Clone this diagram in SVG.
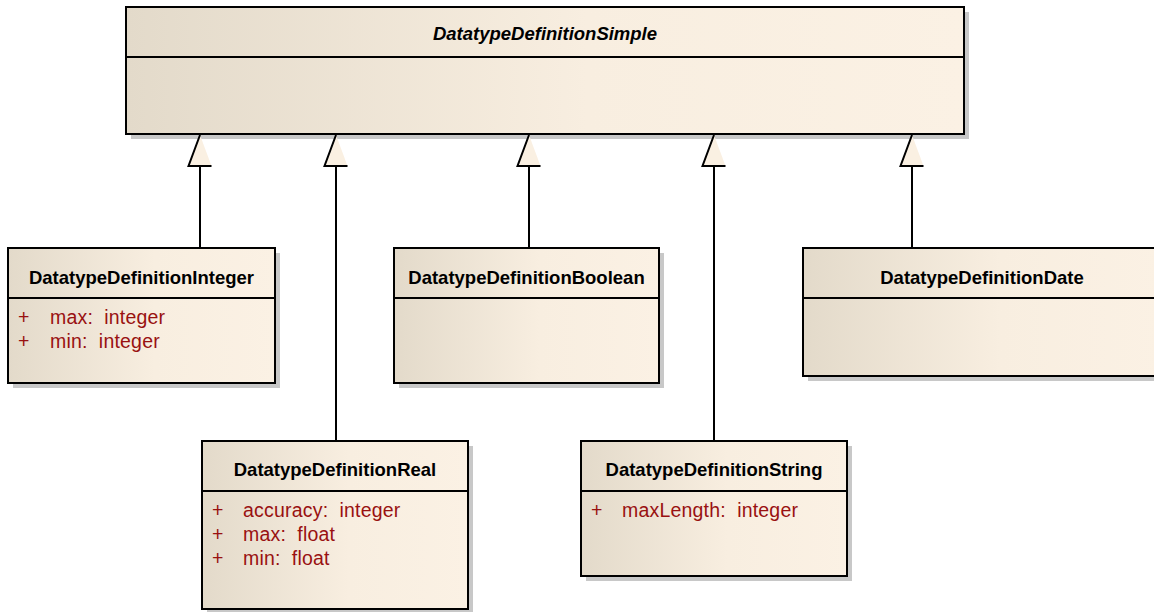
<svg xmlns="http://www.w3.org/2000/svg" width="1154" height="612" viewBox="0 0 1154 612">
<defs>
<linearGradient id="fillG" x1="0" y1="0" x2="1" y2="0">
<stop offset="0" stop-color="#E3DACA"/>
<stop offset="0.55" stop-color="#F8EEE0"/>
<stop offset="1" stop-color="#FBF1E4"/>
</linearGradient>
<style>
.shadow{fill:#C8C8C8;stroke:none}
.box{fill:url(#fillG);stroke:#000;stroke-width:2}
.sep{stroke:#000;stroke-width:2}
.title{font-family:"Liberation Sans",Arial,sans-serif;font-weight:bold;font-size:18.5px;fill:#000;text-anchor:middle}
.italic{font-style:italic}
.attr{font-family:"Liberation Sans",Arial,sans-serif;font-size:19.5px;fill:#991111;white-space:pre;letter-spacing:0.2px}
.conn{stroke:#000;stroke-width:2;fill:none}
.tri{fill:#FAF0E2;stroke:none}
.triS{fill:none;stroke:#000;stroke-width:2}
</style>
</defs>
<rect width="1154" height="612" fill="#FFFFFF"/>

<g id="DatatypeDefinitionSimple">
<rect class="shadow" x="131" y="12" width="838" height="127"/>
<rect class="box" x="126" y="7" width="838" height="127"/>
<line class="sep" x1="126" y1="57" x2="964" y2="57"/>
<text class="title italic" x="545" y="39.5">DatatypeDefinitionSimple</text>
</g>

<g id="DatatypeDefinitionInteger">
<rect class="shadow" x="13" y="253" width="267" height="135"/>
<rect class="box" x="8" y="248" width="267" height="135"/>
<line class="sep" x1="8" y1="298" x2="275" y2="298"/>
<text class="title" x="141.5" y="283.5">DatatypeDefinitionInteger</text>
<text class="attr" x="18" y="324">+</text>
<text class="attr" x="50" y="324">max:  integer</text>
<text class="attr" x="18" y="348">+</text>
<text class="attr" x="50" y="348">min:  integer</text>
</g>

<g id="DatatypeDefinitionBoolean">
<rect class="shadow" x="399" y="253" width="265" height="135"/>
<rect class="box" x="394" y="248" width="265" height="135"/>
<line class="sep" x1="394" y1="298" x2="659" y2="298"/>
<text class="title" x="526.5" y="283.5">DatatypeDefinitionBoolean</text>
</g>

<g id="DatatypeDefinitionDate">
<rect class="shadow" x="808" y="253" width="358" height="128"/>
<rect class="box" x="803" y="248" width="358" height="128"/>
<line class="sep" x1="803" y1="298" x2="1161" y2="298"/>
<text class="title" x="982" y="283.5">DatatypeDefinitionDate</text>
</g>

<g id="DatatypeDefinitionReal">
<rect class="shadow" x="207" y="446" width="266" height="168"/>
<rect class="box" x="202" y="441" width="266" height="168"/>
<line class="sep" x1="202" y1="491" x2="468" y2="491"/>
<text class="title" x="335" y="476">DatatypeDefinitionReal</text>
<text class="attr" x="212" y="517">+</text>
<text class="attr" x="243" y="517">accuracy:  integer</text>
<text class="attr" x="212" y="541">+</text>
<text class="attr" x="243" y="541">max:  float</text>
<text class="attr" x="212" y="565">+</text>
<text class="attr" x="243" y="565">min:  float</text>
</g>

<g id="DatatypeDefinitionString">
<rect class="shadow" x="586" y="446" width="266" height="135"/>
<rect class="box" x="581" y="441" width="266" height="135"/>
<line class="sep" x1="581" y1="491" x2="847" y2="491"/>
<text class="title" x="714" y="476">DatatypeDefinitionString</text>
<text class="attr" x="591" y="517">+</text>
<text class="attr" x="622" y="517">maxLength:  integer</text>
</g>

<g id="connectors">
<line class="conn" x1="200" y1="166" x2="200" y2="247"/>
<line class="conn" x1="336" y1="166" x2="336" y2="440"/>
<line class="conn" x1="529" y1="166" x2="529" y2="247"/>
<line class="conn" x1="714" y1="166" x2="714" y2="440"/>
<line class="conn" x1="912" y1="166" x2="912" y2="247"/>
<g>
<polygon class="tri" points="200,135 188.5,166 211.5,166"/>
<polyline class="triS" points="211.5,166 188.5,166 200,135"/>
</g>
<g>
<polygon class="tri" points="336,135 324.5,166 347.5,166"/>
<polyline class="triS" points="347.5,166 324.5,166 336,135"/>
</g>
<g>
<polygon class="tri" points="529,135 517.5,166 540.5,166"/>
<polyline class="triS" points="540.5,166 517.5,166 529,135"/>
</g>
<g>
<polygon class="tri" points="714,135 702.5,166 725.5,166"/>
<polyline class="triS" points="725.5,166 702.5,166 714,135"/>
</g>
<g>
<polygon class="tri" points="912,135 900.5,166 923.5,166"/>
<polyline class="triS" points="923.5,166 900.5,166 912,135"/>
</g>
</g>
</svg>
